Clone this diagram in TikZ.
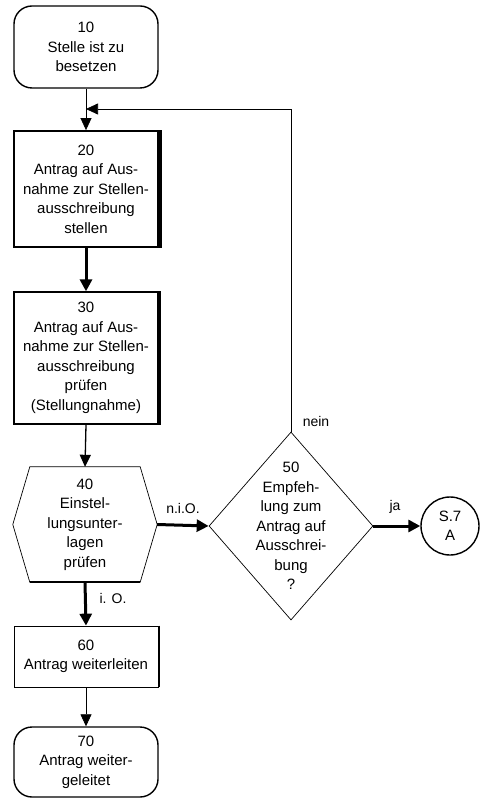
\documentclass[tikz,border=0pt]{standalone}
\usepackage{fontspec}
\setmainfont{Liberation Sans}
\usetikzlibrary{shapes.geometric,arrows.meta,calc}
\begin{document}
\begin{tikzpicture}[x=1pt,y=-1pt,
  txt/.style={align=center,font=\fontsize{15}{19.5}\selectfont},
  term/.style={draw,line width=1.4pt,rounded corners=18pt,minimum width=144pt,inner sep=0pt,txt},
  procbox/.style={draw,minimum width=144pt,inner sep=0pt,txt},
  thinarr/.style={line width=0.7pt,-{Triangle[length=12pt,width=11pt]}},
  medarr/.style={line width=1.3pt,-{Triangle[length=12pt,width=11pt]}},
  thickarr/.style={line width=3pt,-{Triangle[length=12pt,width=12pt]}},
  lbl/.style={font=\fontsize{14}{16}\selectfont}
]
\useasboundingbox (0,0) rectangle (485,799);

% nodes
\node[term,minimum height=82pt] (b10) at (86,47) {10\\Stelle ist zu\\besetzen};
\node[procbox,line width=1.8pt,minimum height=116pt] (b20) at (86,189) {20\\Antrag auf Aus-\\nahme zur Stellen-\\ausschreibung\\stellen};
\node[procbox,line width=1.3pt,minimum height=132pt] (b30) at (86,358) {30\\Antrag auf Aus-\\nahme zur Stellen-\\ausschreibung\\prüfen\\(Stellungnahme)};
\node[txt,minimum width=110pt,minimum height=115pt,inner sep=0pt] (h40) at (85,524.5) {40\\Einstel-\\lungsunter-\\lagen\\prüfen};
\node[procbox,line width=0.7pt,minimum height=61pt] (b60) at (86,656.5) {60\\Antrag weiterleiten};
\node[term,minimum height=70pt] (b70) at (86,762) {70\\Antrag weiter-\\geleitet};
\node[draw,diamond,line width=0.7pt,minimum width=164pt,minimum height=188pt,inner sep=0pt] (d50) at (291,526) {};
\node[txt] (t50) at (291,526) {50\\Empfeh-\\lung zum\\Antrag auf\\Ausschrei-\\bung\\?};
\node[draw,circle,line width=1.4pt,minimum size=58pt,inner sep=0pt,txt] (s7) at (450,526) {S.7\\A};

% shadows on the right side of process boxes
\draw[line width=2.5pt] ([xshift=1.5pt]b20.north east) -- ([xshift=1.5pt]b20.south east);
\draw[line width=2.5pt] ([xshift=1.5pt]b30.north east) -- ([xshift=1.5pt]b30.south east);
\draw[line width=2pt] ([xshift=1pt]b60.north east) -- ([xshift=1pt]b60.south east);

% hexagon 40
\coordinate (h40r) at ($(h40.east)+(17,0)$);
\coordinate (h40l) at ($(h40.west)+(-17,0)$);
\draw[line width=0.7pt] (h40.north west) -- (h40.north east) -- (h40r) -- (h40.south east) -- (h40.south west) -- (h40l) -- cycle;
\draw[line width=1.6pt] (h40.south west) -- (h40.south east);

% connectors
\coordinate (loopend) at (86,109);
\draw[thinarr] (b10.south) -- (b20.north);
\draw[thinarr] (d50.north) |- (loopend);
\draw[thickarr] (b20.south) -- (b30.north);
\draw[medarr] (b30.south) -- (h40.north);
\draw[thickarr] (h40r) -- (d50.west);
\draw[thickarr] (d50.east) -- (s7.west);
\draw[thickarr] (h40.south) -- (b60.north);
\draw[thinarr] (b60.south) -- (b70.north);

% labels
\node[lbl] (lnio) at (183,508) {n.i.O.};
\node[lbl] (lnein) at (316,421) {nein};
\node[lbl] (lja) at (395,507) {ja};
\node[lbl] (lio) at (113,598) {i. O.};
\end{tikzpicture}
\end{document}
